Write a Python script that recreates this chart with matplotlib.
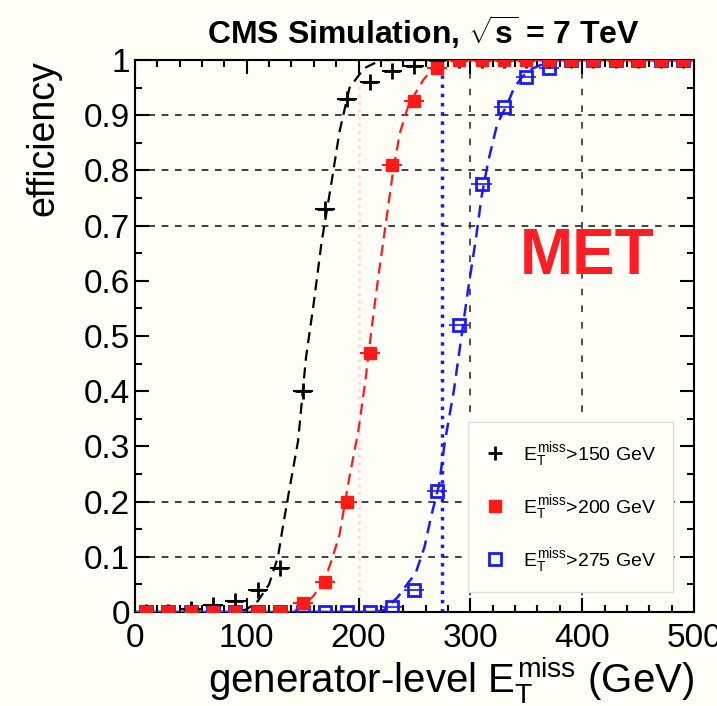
import numpy as np
import matplotlib.pyplot as plt
from matplotlib.lines import Line2D
from matplotlib.ticker import MultipleLocator, FuncFormatter

plt.rcParams['font.family'] = ['Liberation Sans', 'DejaVu Sans']
plt.rcParams['mathtext.fontset'] = 'custom'
plt.rcParams['mathtext.rm'] = 'Liberation Sans'
plt.rcParams['mathtext.it'] = 'Liberation Sans'
plt.rcParams['mathtext.bf'] = 'Liberation Sans:bold'

bg = '#fffef6'

# bin centres (GeV) and measured efficiencies
bins = [10, 30, 50, 70, 90, 110, 130, 150, 170, 190, 210, 230, 250,
        270, 290, 310, 330, 350, 370, 390, 410, 430, 450, 470, 490]
eff_150 = [0, 0, 0.005, 0.013, 0.02, 0.04, 0.08, 0.40, 0.73, 0.93, 0.96, 0.98, 0.99,
           1, 1, 1, 1, 1, 1, 1, 1, 1, 1, 1, 1]
eff_200 = [0, 0, 0, 0, 0, 0, 0, 0.016, 0.055, 0.20, 0.47, 0.81, 0.925,
           0.985, 1, 1, 1, 1, 1, 1, 1, 1, 1, 1, 1]
eff_275 = [0, 0, 0, 0, 0, 0, 0, 0, 0, 0, 0, 0.01, 0.04,
           0.22, 0.52, 0.775, 0.915, 0.97, 0.985, 1, 1, 1, 1, 1, 1]

# fitted turn-on curves
fit_150_x = [0, 90, 100, 110, 120, 128, 132, 138, 146, 153, 160, 167, 176, 183, 192, 205, 220, 500]
fit_150_y = [0, 0, 0.005, 0.02, 0.05, 0.10, 0.15, 0.22, 0.31, 0.46, 0.56, 0.67, 0.78, 0.87, 0.95, 0.985, 1, 1]
fit_200_x = [0, 140, 150, 160, 170, 176, 183, 192, 200, 206, 212, 218, 224, 231, 237, 245, 258, 267, 280, 500]
fit_200_y = [0, 0, 0.01, 0.03, 0.06, 0.094, 0.14, 0.246, 0.33, 0.417, 0.518, 0.612, 0.698, 0.80, 0.868,
             0.92, 0.964, 0.987, 1, 1]
fit_275_x = [0, 215, 223, 235, 244, 251, 259, 265, 272, 277, 285, 292, 298, 305, 310, 316, 324, 333,
             339, 346, 355, 373, 500]
fit_275_y = [0, 0, 0.004, 0.027, 0.052, 0.07, 0.118, 0.174, 0.23, 0.306, 0.398, 0.498, 0.585, 0.677,
             0.752, 0.817, 0.884, 0.92, 0.949, 0.969, 0.984, 1, 1]

labels = [r'$E_T^{\mathrm{miss}}$>150 GeV', r'$E_T^{\mathrm{miss}}$>200 GeV', r'$E_T^{\mathrm{miss}}$>275 GeV']
thresholds = [200, 275]

fig = plt.figure(figsize=(7.17, 7.06), dpi=100, facecolor=bg)
ax = fig.add_axes([0.188, 0.133, 0.78, 0.782], facecolor=bg)

# partial dashed grid
for yv in [0.1, 0.2, 0.7, 0.8, 0.9]:
    ax.axhline(yv, color='#222222', ls=(0, (4, 4)), lw=1.2, zorder=1)
for xv in [300, 400]:
    ax.axvline(xv, color='#333333', ls=(0, (4, 6)), lw=1.2, zorder=1)

ax.axvline(thresholds[0], color='#ffd6e0', ls=':', lw=2, zorder=1)
ax.axvline(thresholds[1], color='#1a1aff', ls=':', lw=2.5, zorder=2)

ax.plot(fit_150_x, fit_150_y, color='black', ls=(0, (5, 3)), lw=1.6, zorder=3)
ax.plot(fit_200_x, fit_200_y, color='#ff1a1a', ls=(0, (5, 3)), lw=1.6, zorder=3)
ax.plot(fit_275_x, fit_275_y, color='#1a1aff', ls=(0, (5, 3)), lw=1.8, zorder=3)
ax.plot([0, 215], [0, 0], color='#1a1aff', lw=2.5, zorder=3)

ax.errorbar(bins, eff_275, xerr=9, fmt='s', ms=8, mfc='none', mec='#1a1aff', mew=2,
            ecolor='#1a1aff', elinewidth=1.2, zorder=4)
ax.errorbar(bins, eff_150, xerr=9, fmt='+', ms=12, color='black', mew=2,
            elinewidth=1.5, zorder=5)
ax.errorbar(bins, eff_200, xerr=9, fmt='s', ms=8, color='#ff1a1a',
            elinewidth=1.5, zorder=6)

ax.text(404, 0.643, 'MET', color='#ff1c24', fontsize=46, fontweight='bold',
        ha='center', va='center', zorder=7)

ax.set_xlim(0, 500)
ax.set_ylim(0, 1.0)
ax.xaxis.set_major_locator(MultipleLocator(100))
ax.xaxis.set_minor_locator(MultipleLocator(20))
ax.yaxis.set_major_locator(MultipleLocator(0.1))
ax.yaxis.set_minor_locator(MultipleLocator(0.05))
ax.yaxis.set_major_formatter(FuncFormatter(lambda v, p: '%g' % round(v, 2)))
ax.tick_params(which='both', direction='in', top=True, right=True, labelsize=24, width=1.5)
ax.tick_params(which='major', length=10)
ax.tick_params(which='minor', length=5)
ax.tick_params(axis='x', pad=8)
for s in ax.spines.values():
    s.set_linewidth(1.5)

ax.set_xlabel(r'generator-level $E_T^{\mathrm{miss}}$ (GeV)', fontsize=29, loc='right', labelpad=0)
ax.set_ylabel('efficiency', fontsize=27, loc='top', labelpad=16)

handles = [
    Line2D([], [], ls='none', marker='+', ms=10, mew=2, color='black'),
    Line2D([], [], ls='none', marker='s', ms=8, color='#ff1a1a'),
    Line2D([], [], ls='none', marker='s', ms=8, mfc='none', mec='#1a1aff', mew=2),
]
leg = ax.legend(handles, labels, loc='upper left', bbox_to_anchor=(0.596, 0.344),
                borderaxespad=0, fontsize=14, labelspacing=1.25, handlelength=1.0,
                handletextpad=0.9, borderpad=0.9, fancybox=False, framealpha=1,
                facecolor=bg, edgecolor='#dddddd')
leg.set_zorder(8)

fig.text(0.59, 0.955, r'CMS Simulation, $\mathbf{\sqrt{s}}$ = 7 TeV', fontsize=23, fontweight='bold',
         ha='center', va='center')

fig.savefig('out.png', dpi=100, facecolor=bg)
